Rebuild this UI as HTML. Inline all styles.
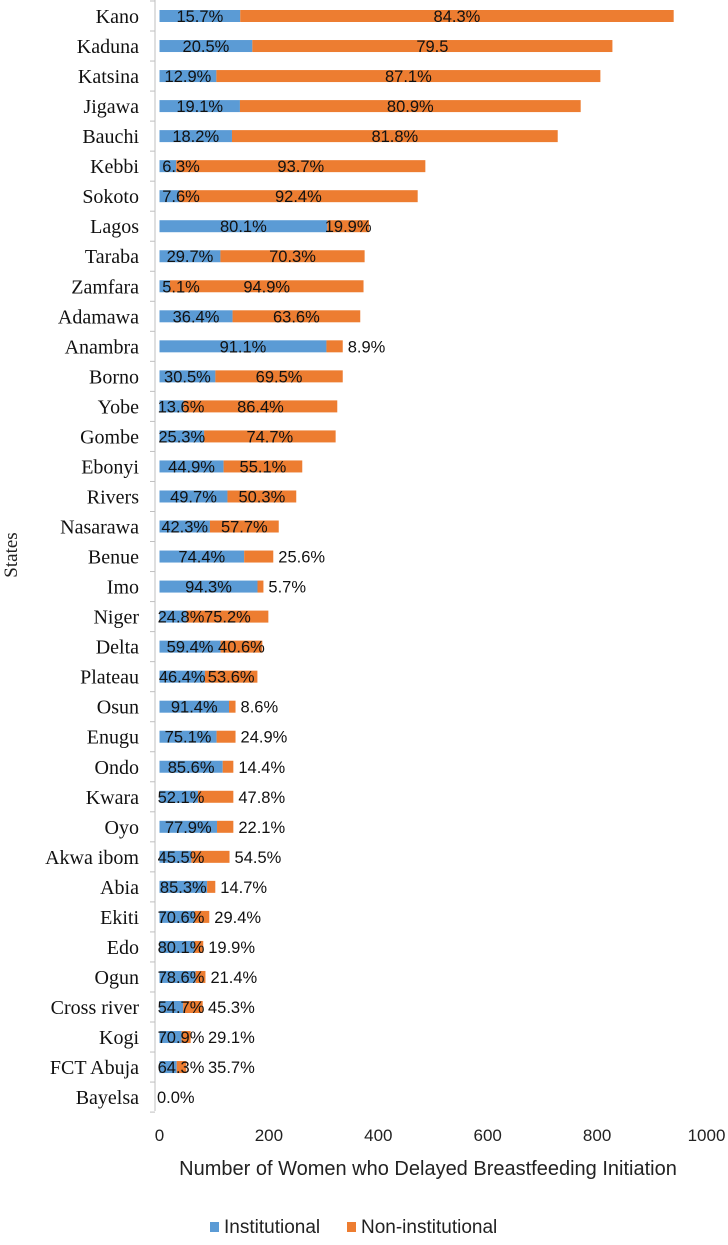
<!DOCTYPE html>
<html><head><meta charset="utf-8"><style>
body{margin:0;background:#fff;width:728px;height:1240px;overflow:hidden}
svg text{font-family:"Liberation Sans",sans-serif}
</style></head><body>
<svg id="chart" width="728" height="1240" xmlns="http://www.w3.org/2000/svg">
<g id="axes"></g><g id="bars"></g><g id="labels"></g>
<text x="428" y="1175" font-size="20" text-anchor="middle" fill="#222">Number of Women who Delayed Breastfeeding Initiation</text>
<text transform="translate(17,555) rotate(-90)" font-size="19" text-anchor="middle" fill="#222" style="font-family:'Liberation Serif',serif">States</text>
<g>
<rect x="210" y="1222" width="9" height="10" fill="#5B9BD5"/>
<text x="224" y="1233" font-size="19" fill="#222">Institutional</text>
<rect x="347" y="1222" width="9" height="10" fill="#ED7D31"/>
<text x="361" y="1233" font-size="19" fill="#222">Non-institutional</text>
</g>
</svg>
<script>
const states=["Kano","Kaduna","Katsina","Jigawa","Bauchi","Kebbi","Sokoto","Lagos","Taraba","Zamfara","Adamawa","Anambra","Borno","Yobe","Gombe","Ebonyi","Rivers","Nasarawa","Benue","Imo","Niger","Delta","Plateau","Osun","Enugu","Ondo","Kwara","Oyo","Akwa ibom","Abia","Ekiti","Edo","Ogun","Cross river","Kogi","FCT Abuja","Bayelsa"];
const totals=[940,828,806,770,728,486,472,383,375,373,367,335,335,325,322,261,250,218,208,190,199,188,179,139,139,135,135,135,128,102,91,80,84,79,57,49,0];
const instPct=[15.7,20.5,12.9,19.1,18.2,6.3,7.6,80.1,29.7,5.1,36.4,91.1,30.5,13.6,25.3,44.9,49.7,42.3,74.4,94.3,24.8,59.4,46.4,91.4,75.1,85.6,52.1,77.9,45.5,85.3,70.6,80.1,78.6,54.7,70.9,64.3,0];
const nonLabels=["84.3%","79.5","87.1%","80.9%","81.8%","93.7%","92.4%","19.9%","70.3%","94.9%","63.6%","8.9%","69.5%","86.4%","74.7%","55.1%","50.3%","57.7%","25.6%","5.7%","75.2%","40.6%","53.6%","8.6%","24.9%","14.4%","47.8%","22.1%","54.5%","14.7%","29.4%","19.9%","21.4%","45.3%","29.1%","35.7%","0.0%"];
const xTicks=[0,200,400,600,800,1000];
const X0=159.5,SC=0.547,Y0=16,RH=30.03,BH=12;
const xs=v=>X0+v*SC, yc=i=>Y0+i*RH;
const NS="http://www.w3.org/2000/svg";
function mk(tag,parent,attrs){const e=document.createElementNS(NS,tag);for(const k in attrs)e.setAttribute(k,attrs[k]);document.getElementById(parent).appendChild(e);return e;}
let ax=mk('line','axes',{x1:155,y1:0,x2:155,y2:1111,stroke:'#bfbfbf','stroke-width':1});


for(let i=0;i<=states.length;i++){
 let t=mk('line','axes',{x1:150,x2:155,y1:yc(i)-RH/2,y2:yc(i)-RH/2,stroke:'#bfbfbf'});
 
 
}
xTicks.forEach(v=>{
 let t=mk('text','axes',{x:xs(v),y:1141,'font-size':17,'text-anchor':'middle',fill:'#222'});
 t.textContent=v;
 
 
});
const FS=16.5, LW=46;
states.forEach((s,i)=>{
 const y=yc(i), tot=totals[i], inst=tot*instPct[i]/100, non=tot-inst;
 let l=mk('text','labels',{x:139,y:y+7,'font-size':20,'text-anchor':'end',fill:'#111',style:"font-family:'Liberation Serif',serif"});
 l.textContent=s;
 
 
 let b1=mk('rect','bars',{x:xs(0),y:y-BH/2,width:inst*SC,height:BH,fill:'#5B9BD5'});
 
 
 let b2=mk('rect','bars',{x:xs(inst),y:y-BH/2,width:non*SC,height:BH,fill:'#ED7D31'});
 
 
 if(tot>0){
  let cx=Math.max(xs(inst/2),158+LW/2);
  let t1=mk('text','labels',{x:cx,y:y+6,'font-size':FS,'text-anchor':'middle',fill:'#111'});
  t1.textContent=instPct[i].toFixed(1)+'%';
  
  
  let t2;
  const oc=xs(inst+non/2);
  if(non*SC>=30 && oc-LW/2>cx+LW/2-6){
   t2=mk('text','labels',{x:oc,y:y+6,'font-size':FS,'text-anchor':'middle',fill:'#111'});
  } else {
   t2=mk('text','labels',{x:Math.max(xs(tot)+5,cx+LW/2+4),y:y+6,'font-size':FS,'text-anchor':'start',fill:'#111'});
  }
  t2.textContent=nonLabels[i];
  
  
 } else {
  let t=mk('text','labels',{x:157,y:y+6,'font-size':FS,fill:'#111'});
  t.textContent=nonLabels[i];
  
  
 }
});
</script>
</body></html>
